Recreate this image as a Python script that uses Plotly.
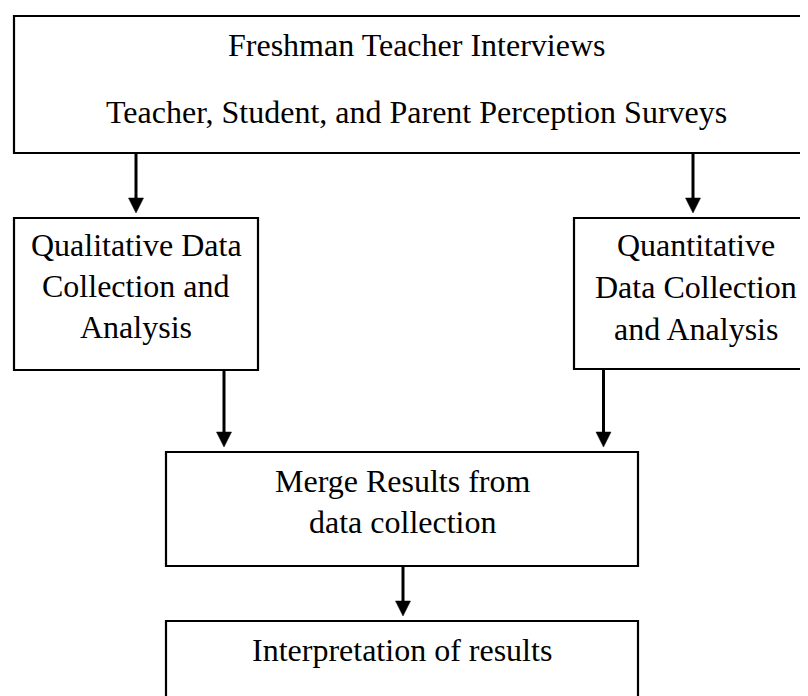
import plotly.graph_objects as go

# ---- content ----
box_names = ["sources", "qualitative", "quantitative", "merge", "interpret"]
box_lines = [
    ["Freshman Teacher Interviews", "Teacher, Student, and Parent Perception Surveys"],
    ["Qualitative Data", "Collection and", "Analysis"],
    ["Quantitative", "Data Collection", "and Analysis"],
    ["Merge Results from", "data collection"],
    ["Interpretation of results"],
]
edges = [("sources", "qualitative"), ("sources", "quantitative"),
         ("qualitative", "merge"), ("quantitative", "merge"),
         ("merge", "interpret")]

# ---- layout (pixel canvas of the page, y downward) ----
W, H = 808, 696
PAGE_OFF = 8  # browser body margin
box_x0 = [14, 14, 574, 166, 166]
box_x1 = [818, 258, 818, 638, 638]
box_y0 = [16, 218, 218, 452, 621]
box_y1 = [153, 370, 369, 566, 720]
line_baselines = [[56, 123], [256, 297, 338], [256, 298, 340], [492, 533], [661]]
edge_x = [136, 693, 224, 603.5, 403]
FONT = "Liberation Serif, Times New Roman, serif"
FS = 32
HEAD = 15

fig = go.Figure()
shapes = []
annotations = []
idx = {n: i for i, n in enumerate(box_names)}

for i, n in enumerate(box_names):
    shapes.append(dict(type="rect", xref="x", yref="y",
                       x0=box_x0[i], x1=box_x1[i], y0=box_y0[i], y1=box_y1[i],
                       line=dict(color="black", width=2.2), fillcolor="white", layer="below"))
    cx = (box_x0[i] + box_x1[i]) / 2
    for txt, base in zip(box_lines[i], line_baselines[i]):
        annotations.append(dict(x=cx, y=base - 0.34 * FS, xref="x", yref="y",
                                text=txt, showarrow=False, xanchor="center", yanchor="middle",
                                font=dict(family=FONT, size=FS, color="black")))

for (a, b), x in zip(edges, edge_x):
    ys = box_y1[idx[a]]
    tip = box_y0[idx[b]] - 5
    shapes.append(dict(type="line", xref="x", yref="y", x0=x, x1=x, y0=ys, y1=tip - HEAD + 2,
                       line=dict(color="black", width=3)))
    shapes.append(dict(type="path", xref="x", yref="y",
                       path=f"M {x - HEAD/2} {tip - HEAD} L {x + HEAD/2} {tip - HEAD} L {x} {tip} Z",
                       fillcolor="black", line=dict(color="black", width=0.5)))

fig.update_layout(
    width=W, height=H, margin=dict(l=0, r=0, t=0, b=0),
    paper_bgcolor="white", plot_bgcolor="white",
    xaxis=dict(range=[PAGE_OFF, PAGE_OFF + W], visible=False, fixedrange=True),
    yaxis=dict(range=[PAGE_OFF + H, PAGE_OFF], visible=False, fixedrange=True),
    shapes=shapes, annotations=annotations, showlegend=False,
)
fig.write_html("out.html")
